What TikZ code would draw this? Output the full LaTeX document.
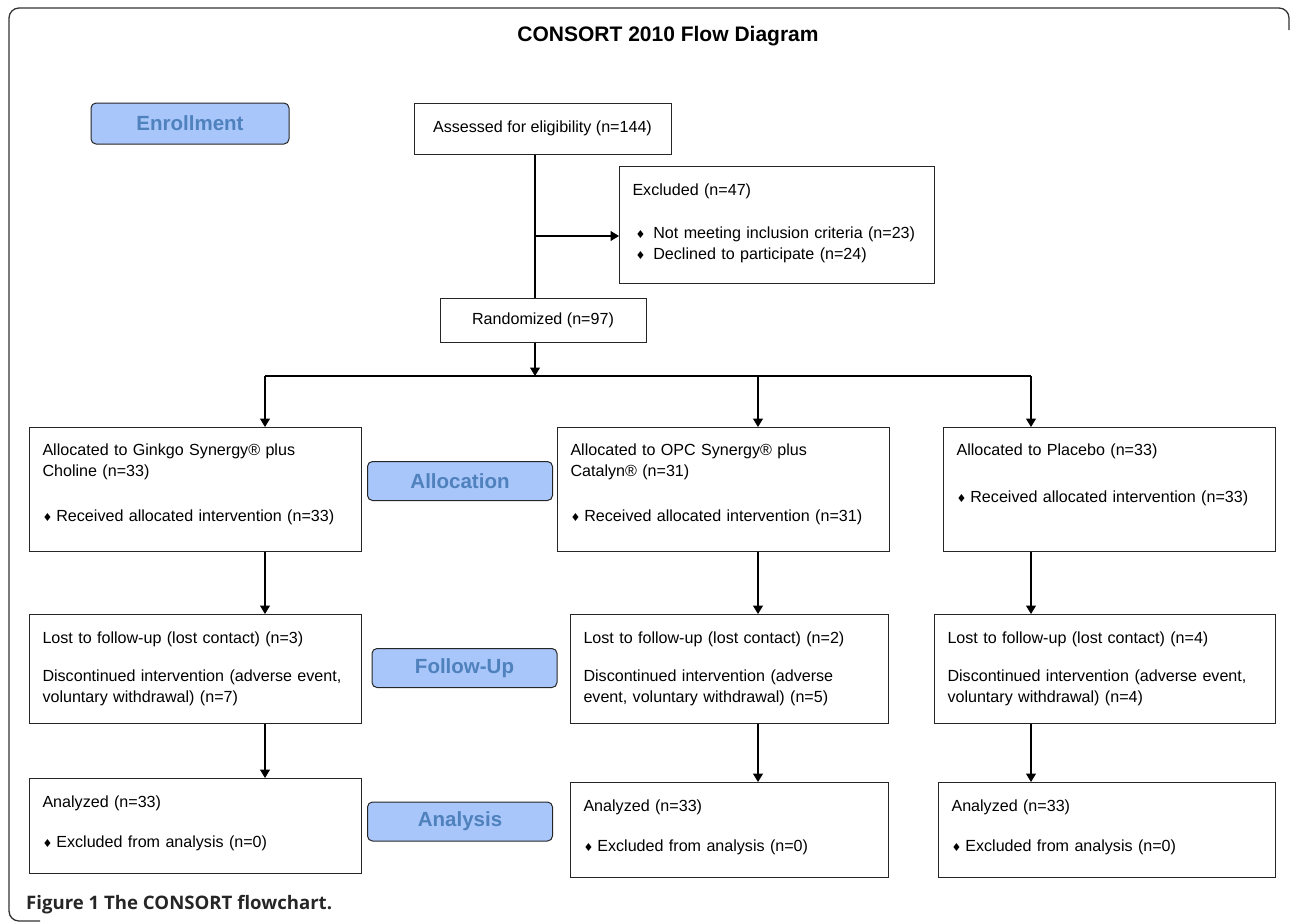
\documentclass[tikz,border=0pt]{standalone}
\usepackage{fontspec}
\setmainfont{Liberation Sans}
\newfontfamily\capfont{Open Sans}
\newfontfamily\symfont{DejaVu Sans}
\usetikzlibrary{arrows.meta}
\definecolor{phasefill}{RGB}{168,198,250}
\definecolor{phasetext}{RGB}{79,129,189}
\newcommand{\dia}{{\symfont\fontsize{11}{11}\selectfont ♦}\hspace{4pt}}

\begin{document}
\begin{tikzpicture}[x=1pt,y=-1pt,font=\fontsize{16.1}{21}\selectfont]

% definitions
\tikzstyle{phase} = [rectangle, rounded corners=5pt, draw=black!85, line width=1pt, fill=phasefill, text=phasetext, font=\fontsize{20.5}{24}\selectfont\bfseries, minimum width=185pt, minimum height=39pt]

\tikzstyle{centerbox} = [rectangle, draw=black!85, line width=1pt, text centered]

\tikzstyle{listbox} = [rectangle, draw=black!85, line width=1pt, anchor=north west, align=left, inner xsep=13pt, inner ysep=0pt]

\tikzstyle{line} = [line width=1.2pt]
\tikzstyle{arrow} = [line width=1.2pt, -{Triangle[length=8.5pt,width=10pt]}]

\useasboundingbox (0,0) rectangle (1290,922);

% frame and title
\draw [line width=1.3pt, black!80, rounded corners=10pt] (1289,30) -- (1289,8) -- (9,8) -- (9,921) -- (40,921);
\node (ttl) [font=\fontsize{21}{25}\selectfont\bfseries] at (668,36) {CONSORT 2010 Flow Diagram};

% phase labels
\node (enr) [phase, minimum width=198pt, minimum height=41pt] at (190,123.5) {Enrollment};
\node (alc) [phase] at (460,481) {Allocation};
\node (fol) [phase] at (464.5,668) {Follow-Up};
\node (ana) [phase] at (460,821.5) {Analysis};

% the graph
\node (as) [centerbox, minimum width=257pt, minimum height=51pt] at (542.5,128.5) {Assessed for eligibility (n=144)};

\node (ex) [listbox, text width=289pt, text height=29pt, text depth=88pt] at (619,166) {Excluded (n=47)\\[22pt]\hspace*{3pt}\dia\hspace{4pt}Not meeting inclusion criteria (n=23)\\\hspace*{3pt}\dia\hspace{4pt}Declined to participate (n=24)};

\node (ra) [centerbox, minimum width=206pt, minimum height=44pt] at (543,320) {Randomized (n=97)};

\node (al1) [listbox, text width=306pt, text height=28pt, text depth=96pt] at (29,427) {Allocated to Ginkgo Synergy® plus\\Choline (n=33)\\[24pt]\dia Received allocated intervention (n=33)};

\node (al2) [listbox, text width=306pt, text height=28pt, text depth=96pt] at (557,427) {Allocated to OPC Synergy® plus\\Catalyn® (n=31)\\[24pt]\dia Received allocated intervention (n=31)};

\node (al3) [listbox, text width=306pt, text height=28pt, text depth=96pt] at (943,427) {Allocated to Placebo (n=33)\\[26pt]\dia Received allocated intervention (n=33)};

\node (fu1) [listbox, text width=306pt, text height=29pt, text depth=80pt] at (29,614) {Lost to follow-up (lost contact) (n=3)\\[17pt]Discontinued intervention (adverse event,\\voluntary withdrawal) (n=7)};

\node (fu2) [listbox, text width=292pt, text height=29pt, text depth=80pt] at (570,614) {Lost to follow-up (lost contact) (n=2)\\[17pt]Discontinued intervention (adverse\\event, voluntary withdrawal) (n=5)};

\node (fu3) [listbox, text width=315pt, text height=29pt, text depth=80pt] at (934,614) {Lost to follow-up (lost contact) (n=4)\\[17pt]Discontinued intervention (adverse event,\\voluntary withdrawal) (n=4)};

\node (an1) [listbox, text width=306pt, text height=29pt, text depth=66pt] at (29,778) {Analyzed (n=33)\\[19pt]\dia Excluded from analysis (n=0)};

\node (an2) [listbox, text width=292pt, text height=29pt, text depth=66pt] at (570,782) {Analyzed (n=33)\\[19pt]\dia Excluded from analysis (n=0)};

\node (an3) [listbox, text width=311pt, text height=29pt, text depth=66pt] at (938,782) {Analyzed (n=33)\\[19pt]\dia Excluded from analysis (n=0)};

% split points
\coordinate (sp) at (535,236);
\coordinate (br) at (535,376);
\coordinate (b1) at (265,376);
\coordinate (b2) at (758,376);
\coordinate (b3) at (1031,376);

\draw [line] (as.south -| sp) -- (ra.north -| sp);
\draw [arrow] (sp) -- (sp -| ex.west);
\draw [arrow] (ra.south -| br) -- (br);
\draw [line] (b1) -- (b3);

\draw [arrow] (b1) -- (b1 |- al1.north);
\draw [arrow] (b2) -- (b2 |- al2.north);
\draw [arrow] (b3) -- (b3 |- al3.north);

\draw [arrow] (al1.south -| b1) -- (fu1.north -| b1);
\draw [arrow] (al2.south -| b2) -- (fu2.north -| b2);
\draw [arrow] (al3.south -| b3) -- (fu3.north -| b3);

\draw [arrow] (fu1.south -| b1) -- (an1.north -| b1);
\draw [arrow] (fu2.south -| b2) -- (an2.north -| b2);
\draw [arrow] (fu3.south -| b3) -- (an3.north -| b3);

% caption
\node (cap) [anchor=west, inner sep=0pt, text=black!85, font=\capfont\fontsize{18.6}{22}\selectfont\bfseries] at (26,905) {Figure 1 The CONSORT flowchart.};

\end{tikzpicture}
\end{document}
